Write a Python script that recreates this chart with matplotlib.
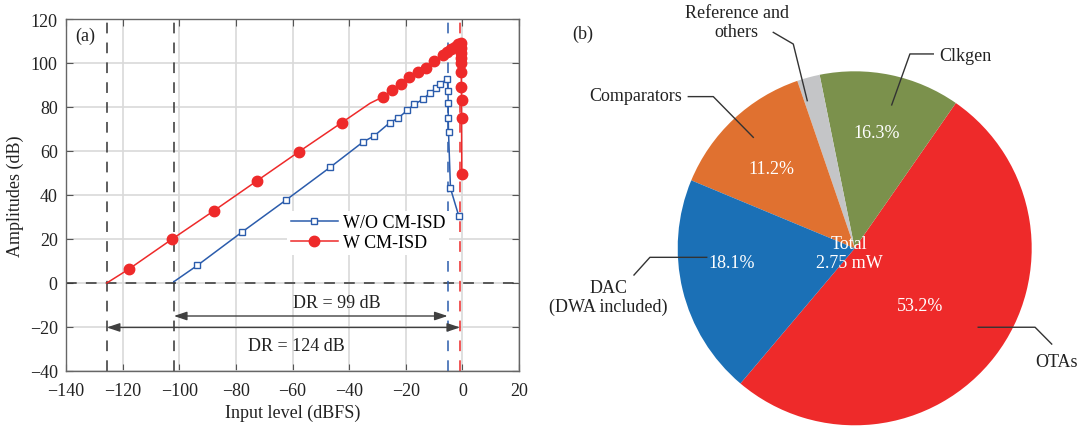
import matplotlib.pyplot as plt

plt.rcParams["font.family"] = ["Liberation Serif", "DejaVu Serif"]
plt.rcParams["font.size"] = 13
plt.rcParams["axes.unicode_minus"] = True

# (a) amplitude vs input level
w_isd_x = [-125.6, -117.7, -102.7, -87.7, -72.6, -57.7, -42.6, -32.6, -27.9, -24.7,
           -21.8, -18.7, -15.8, -12.8, -9.9, -6.9, -5.5, -4.1, -2.6, -1.4,
           -0.5, -0.5, -0.45, -0.45, -0.4, -0.4, -0.35, -0.3, -0.3, -0.2]
w_isd_y = [0.0, 6.4, 19.8, 32.9, 46.4, 59.7, 72.9, 81.7, 84.7, 87.7,
           90.3, 93.8, 96.0, 97.6, 100.9, 103.6, 104.9, 106.2, 107.4, 108.5,
           109.2, 106.7, 104.4, 102.1, 99.9, 95.8, 89.2, 83.2, 74.9, 49.5]
w_isd_nomark = [0, 7]

wo_isd_x = [-101.9, -93.6, -78.0, -62.3, -46.7, -35.0, -31.2, -25.6, -22.6, -19.4,
            -17.0, -13.8, -11.4, -9.3, -7.9, -5.3, -5.1, -5.0, -5.0, -4.9,
            -4.2, -1.3]
wo_isd_y = [0.6, 8.0, 23.0, 37.7, 52.6, 64.2, 66.8, 72.9, 75.0, 78.6,
            81.2, 83.6, 86.5, 88.5, 90.5, 92.7, 87.4, 82.0, 75.1, 68.8,
            43.0, 30.6]
wo_isd_nomark = [0]

mds_lines = [-125.6, -101.9]
fs_wo, fs_w = -5.2, -0.8

# (b) power breakdown; wedge sizes as drawn in the reference (degrees)
blocks = ["OTAs", "Clkgen", "Reference and\nothers", "Comparators", "DAC\n(DWA included)"]
shares = ["53.2%", "16.3%", "", "11.2%", "18.1%"]
wedge_deg = [185.4, 46.3, 7.5, 48.5, 72.4]
colors = ["#EE2A2A", "#7B914C", "#C4C5C7", "#E07130", "#1B70B6"]

RED = "#EE2A2A"
BLUE = "#2B5CAC"

fig = plt.figure(figsize=(10.88, 4.27), dpi=100)

# ---------------- (a) ----------------
ax = fig.add_axes([66 / 1088, 55 / 427, 453 / 1088, 352 / 427])
ax.set_xlim(-140, 20)
ax.set_ylim(-40, 120)
ax.set_xticks(range(-140, 21, 20))
ax.set_yticks(range(-40, 121, 20))
ax.grid(color="#d9d9d9", linewidth=1.2)
ax.set_axisbelow(True)
for s in ax.spines.values():
    s.set_color("#666666")
    s.set_linewidth(1.0)
ax.tick_params(direction="in", top=True, right=True, length=5, color="#555555",
               labelcolor="#222222", labelsize=13)
ax.tick_params(axis="x", pad=8)
ax.tick_params(axis="y", pad=6)

ax.axhline(0, color="#333333", linestyle=(0, (7, 6)), linewidth=1.1)
for x in mds_lines:
    ax.axvline(x, color="#333333", linestyle=(0, (7, 6)), linewidth=1.1)
ax.axvline(fs_wo, color=BLUE, linestyle=(0, (7, 6)), linewidth=1.1)
ax.axvline(fs_w, color=RED, linestyle=(0, (7, 6)), linewidth=1.1)

ax.plot(wo_isd_x, wo_isd_y, color=BLUE, linewidth=1.1, marker="s", markersize=3.8,
        markerfacecolor="white", markeredgecolor=BLUE, markeredgewidth=1.0,
        markevery=[i for i in range(len(wo_isd_x)) if i not in wo_isd_nomark],
        label="W/O CM-ISD", zorder=4)
ax.plot(w_isd_x, w_isd_y, color=RED, linewidth=1.1, marker="o", markersize=7.5,
        markerfacecolor=RED, markeredgecolor=RED,
        markevery=[i for i in range(len(w_isd_x)) if i not in w_isd_nomark],
        label="W CM-ISD", zorder=5)

leg = ax.legend(loc="upper left", bbox_to_anchor=(0.488, 0.455), fontsize=13,
                frameon=True, fancybox=False, edgecolor="none", facecolor="white",
                framealpha=1, handlelength=2.6, handletextpad=0.3,
                labelspacing=0.15, borderpad=0.2, borderaxespad=0)

arrow = dict(arrowstyle="<|-|>,head_length=0.6,head_width=0.2", color="#404040",
             linewidth=1.0, shrinkA=0, shrinkB=0)
ax.annotate("", xy=(mds_lines[1], -15), xytext=(fs_wo, -15), arrowprops=arrow)
ax.annotate("", xy=(mds_lines[0], -20.2), xytext=(fs_w, -20.2), arrowprops=arrow)
ax.text(-44.2, -9, "DR = 99 dB", ha="center", va="center", fontsize=13, color="#222222")
ax.text(-58.8, -28.2, "DR = 124 dB", ha="center", va="center", fontsize=13, color="#222222")
ax.text(-133.3, 112.5, "(a)", ha="center", va="center", fontsize=13, color="#222222")

ax.set_xlabel("Input level (dBFS)", fontsize=13, color="#222222", labelpad=3)
ax.set_ylabel("Amplitudes (dB)", fontsize=13, color="#222222", labelpad=4)

# ---------------- (b) ----------------
R = 177.0
cx, cy = 854.7, 249.3
pb = fig.add_axes([560 / 1088, 0, 528 / 1088, 1])
pb.pie(wedge_deg, colors=colors, startangle=229.8, counterclock=True,
       radius=1, wedgeprops=dict(linewidth=0))
pb.set_aspect("equal")
pb.set_xlim((560 - cx) / R, (1088 - cx) / R)
pb.set_ylim((cy - 427) / R, cy / R)
pb.axis("off")

inside = {"53.2%": (0.369, -0.324), "16.3%": (0.124, 0.655),
          "11.2%": (-0.469, 0.452), "18.1%": (-0.695, -0.079)}
for s in shares:
    if s:
        pb.text(*inside[s], s, ha="center", va="center", color="white", fontsize=13)
pb.text(-0.03, 0.028, "Total", ha="center", va="center", color="white", fontsize=13)
pb.text(-0.03, -0.083, "2.75 mW", ha="center", va="center", color="white", fontsize=13)

leaders = {
    "OTAs": [(0.698, -0.446), (1.019, -0.446), (1.113, -0.541)],
    "Clkgen": [(0.444, 1.098), (0.312, 1.098), (0.209, 0.81)],
    "Reference and\nothers": [(-0.46, 1.22), (-0.347, 1.154), (-0.268, 0.834)],
    "Comparators": [(-0.94, 0.857), (-0.799, 0.857), (-0.573, 0.627)],
    "DAC\n(DWA included)": [(-1.247, -0.151), (-1.157, -0.051), (-0.836, -0.051)],
}
label_pos = {
    "OTAs": ((1.141, -0.64), "center"),
    "Clkgen": ((0.623, 1.092), "center"),
    "Reference and\nothers": ((-0.667, 1.277), "center"),
    "Comparators": ((-0.977, 0.862), "right"),
    "DAC\n(DWA included)": ((-1.392, -0.275), "center"),
}
for name in blocks:
    pts = leaders[name]
    pb.plot([p[0] for p in pts], [p[1] for p in pts], color="#333333",
            linewidth=1.0, clip_on=False)
    (tx, ty), ha = label_pos[name]
    pb.text(tx, ty, name, ha=ha, va="center", fontsize=13, color="#222222",
            linespacing=1.15)
pb.text(-1.537, 1.216, "(b)", ha="center", va="center", fontsize=13, color="#222222")

fig.savefig("out.png", dpi=100)
